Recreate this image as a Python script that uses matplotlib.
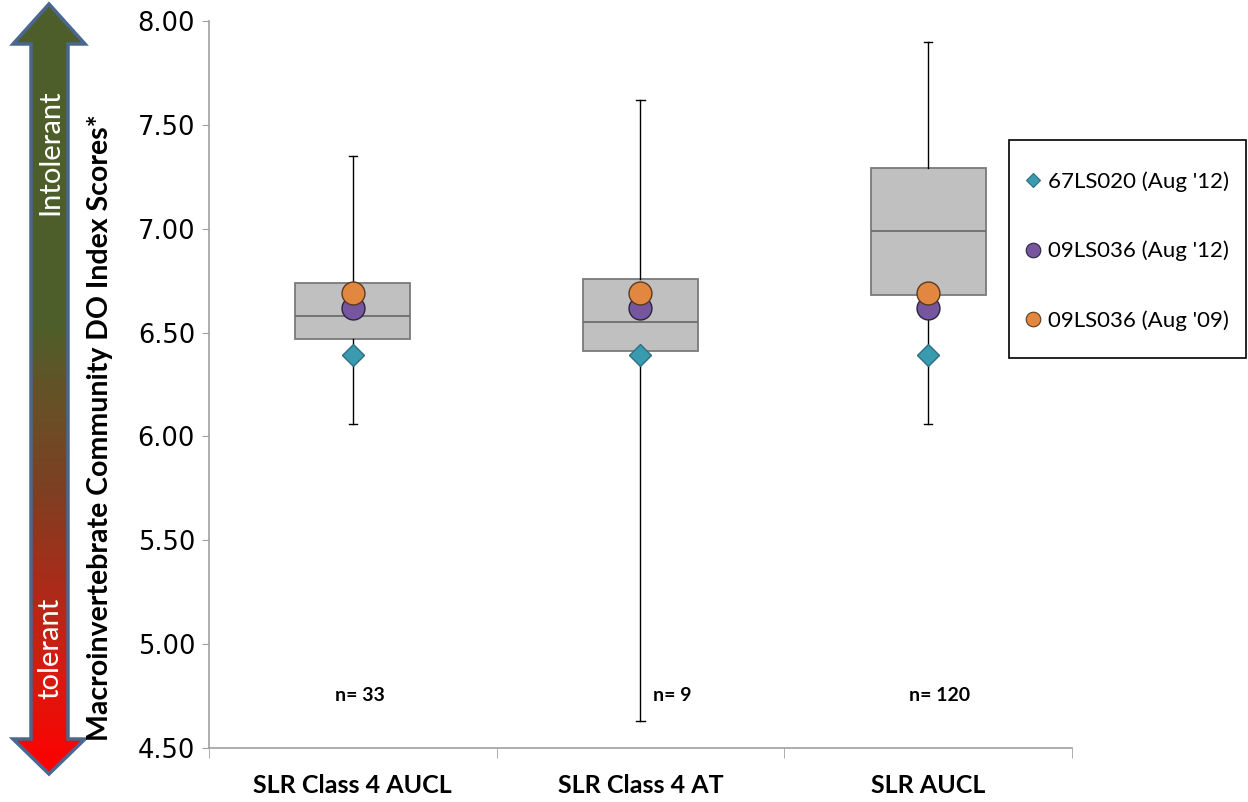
import matplotlib.pyplot as plt
import numpy as np
from matplotlib.patches import Polygon, Rectangle
from matplotlib.lines import Line2D
from matplotlib.colors import LinearSegmentedColormap

plt.rcParams['font.family'] = ['Lato', 'DejaVu Sans']

# box plot data (DO index scores)
categories = ['SLR Class 4 AUCL', 'SLR Class 4 AT', 'SLR AUCL']
whislo = [6.06, 4.63, 6.06]
q1 = [6.47, 6.41, 6.68]
med = [6.58, 6.55, 6.99]
q3 = [6.74, 6.76, 7.29]
whishi = [7.35, 7.62, 7.90]
n_counts = [33, 9, 120]

# site scores, same at every category
site_labels = ["67LS020 (Aug '12)", "09LS036 (Aug '12)", "09LS036 (Aug '09)"]
site_scores = [6.39, 6.62, 6.69]
site_markers = ['D', 'o', 'o']
site_colors = ['#3a9ab0', '#76569c', '#e2873f']
site_edges = ['#2c6f80', '#2a2440', '#5a3a20']

W, H = 1248, 802
fig = plt.figure(figsize=(W / 100, H / 100), dpi=100)
ax = fig.add_axes([209 / W, 1 - 748 / H, (1072 - 209) / W, (748 - 21) / H])

stats = []
for i in range(len(categories)):
    stats.append(dict(whislo=whislo[i], q1=q1[i], med=med[i], q3=q3[i],
                      whishi=whishi[i], fliers=[]))
pos = np.arange(len(categories))
ax.bxp(stats, positions=pos, widths=0.4, patch_artist=True, showfliers=False,
       boxprops=dict(facecolor='#c0c0c0', edgecolor='#7a7a7a', linewidth=1.3),
       medianprops=dict(color='#6e6e6e', linewidth=1.3),
       whiskerprops=dict(color='black', linewidth=1),
       capprops=dict(color='black', linewidth=1), capwidths=0.03)

for s, m, c, e in zip(site_scores, site_markers, site_colors, site_edges):
    ms = 11.5 if m == 'D' else 16.5
    ax.plot(pos, [s] * len(pos), marker=m, ls='none', ms=ms, mfc=c, mec=e,
            mew=1, zorder=5)

offsets = [0.025, 0.11, 0.04]
for i, n in enumerate(n_counts):
    ax.text(pos[i] + offsets[i], 4.755, f'n= {n}', fontsize=14, fontweight='bold',
            ha='center', va='center')

ax.set_xlim(-0.5, 2.5)
ax.set_ylim(4.5, 8.0)
yt = np.arange(4.5, 8.01, 0.5)
ax.set_yticks(yt)
ax.set_yticklabels([f'{v:.2f}' for v in yt], family='DejaVu Sans', fontsize=18.5)
ax.set_xticks(pos)
ax.set_xticklabels(categories, fontsize=18, fontweight='bold')
ax.set_xticks([-0.5, 0.5, 1.5, 2.5], minor=True)
ax.tick_params(axis='x', which='major', length=0, pad=19)
ax.tick_params(axis='x', which='minor', length=7, color='#a0a0a0', direction='out')
ax.tick_params(axis='y', length=5, color='#a0a0a0', direction='out', pad=5)
for side in ['top', 'right']:
    ax.spines[side].set_visible(False)
for side in ['left', 'bottom']:
    ax.spines[side].set_color('#a0a0a0')
    ax.spines[side].set_linewidth(1.2)

# legend box drawn separately so its padding can match
fig.add_artist(Rectangle((1009 / W, 1 - 358 / H), 237 / W, 218 / H,
                         transform=fig.transFigure, fc='white', ec='black',
                         lw=1.2, zorder=1))
handles = [Line2D([], [], marker=m, ls='none', ms=(7.5 if m == 'D' else 10.5),
                  mfc=c, mec=e, mew=0.8)
           for m, c, e in zip(site_markers, site_colors, site_edges)]
leg = fig.legend(handles, site_labels, loc='center left',
                 bbox_to_anchor=(1026 / W, 1 - 251 / H), borderaxespad=0,
                 fontsize=16, labelspacing=2.2, borderpad=0, handlelength=0.6,
                 handletextpad=0.39, frameon=False)
leg.set_zorder(2)

fig.text(100 / W, 1 - 428 / H, 'Macroinvertebrate Community DO Index Scores*',
         rotation=90, fontsize=20.5, fontweight='bold', ha='center', va='center')

# gradient arrow on the left
ov = fig.add_axes([0, 0, 1, 1], zorder=-1)
ov.axis('off')
arrow_pts = [(49, 4), (85, 44), (68, 44), (68, 739), (85, 739), (49, 774),
             (13, 739), (31, 739), (31, 44), (13, 44)]
cmap = LinearSegmentedColormap.from_list('tol', [
    (0.0, '#4e5f2a'), (0.42, '#4f5e2a'), (0.53, '#6a4f26'), (0.63, '#7d4022'),
    (0.75, '#a82c1a'), (0.87, '#d81b10'), (1.0, '#ff0000')])
grad = np.linspace(0, 1, 256).reshape(-1, 1)
poly = Polygon(arrow_pts, closed=True, fc='none', ec='#4a6790', lw=2.5, zorder=3)
ov.add_patch(poly)
im = ov.imshow(grad, cmap=cmap, extent=(13, 85, 774, 4), aspect='auto', zorder=2)
im.set_clip_path(poly)
ov.set_xlim(0, W)
ov.set_ylim(H, 0)
ov.text(50, 152, 'Intolerant', rotation=90, color='white', fontsize=21,
        ha='center', va='center', zorder=4)
ov.text(50, 648, 'tolerant', rotation=90, color='white', fontsize=21,
        ha='center', va='center', zorder=4)

fig.savefig('out.png', dpi=100)
